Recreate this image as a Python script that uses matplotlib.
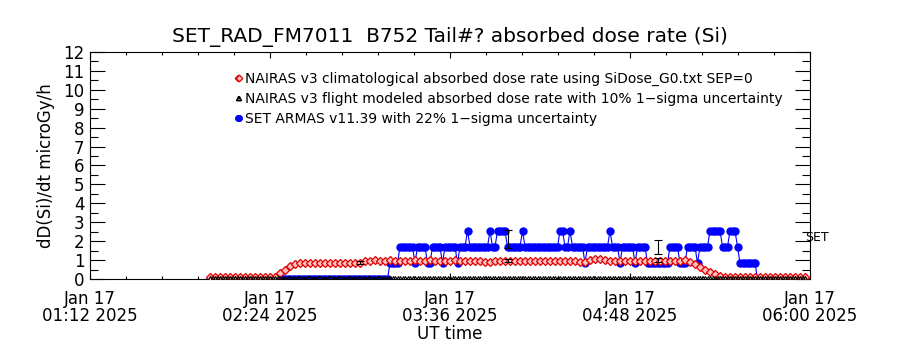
import datetime as dt
import numpy as np
import matplotlib
matplotlib.use("Agg")
import matplotlib.pyplot as plt

title = "SET_RAD_FM7011  B752 Tail#? absorbed dose rate (Si)"
day = dt.datetime(2025, 1, 17)

# NAIRAS climatological dose rate, 2-minute samples from 02:00 to 05:58
clim_start = day + dt.timedelta(hours=2)
clim_dose = ([0.08] * 13
             + [0.12, 0.30, 0.50, 0.66, 0.78, 0.85]
             + [0.86] * 12
             + [0.95]
             + [0.97, 0.98, 0.97, 0.97, 0.98, 0.97, 0.97, 0.96, 0.97, 0.98, 0.97,
                0.97, 0.98, 0.97, 0.96, 0.97, 0.97, 0.98, 0.97, 0.97, 0.96, 0.95]
             + [0.93, 0.92, 0.92, 0.93, 0.94]
             + [0.97] * 15
             + [0.92, 0.90, 0.98, 1.07, 1.08, 1.02]
             + [0.97] * 15
             + [1.00, 0.92, 0.78, 0.64, 0.50, 0.37, 0.26, 0.18, 0.12, 0.09]
             + [0.08] * 15)
clim_times = [clim_start + dt.timedelta(minutes=2 * i) for i in range(len(clim_dose))]

# SET ARMAS dose rate, 1-minute samples from 02:00, stored as (level, run length)
set_levels = [0, 0.85, 1.7, 0.85, 1.7, 0.85, 1.7, 0.85, 1.7, 0.85, 1.7, 2.55, 1.7,
              2.55, 1.7, 2.55, 1.7, 2.55, 1.7, 2.55, 1.7, 2.55, 1.7, 0.85, 1.7,
              2.55, 1.7, 0.85, 1.7, 0.85, 1.7, 0.85, 1.7, 0.85, 1.7, 0.85, 1.7,
              2.55, 1.7, 2.55, 1.7, 0.85, 0]
set_runs = [72, 4, 6, 1, 4, 2, 4, 1, 5, 1, 3, 1, 8,
            1, 2, 4, 6, 1, 14, 2, 2, 1, 5, 1, 9,
            1, 3, 1, 5, 1, 4, 9, 4, 3, 4, 1, 4,
            5, 3, 3, 1, 7, 20]
set_dose = np.repeat(set_levels, set_runs)
set_times = [clim_start + dt.timedelta(minutes=i) for i in range(len(set_dose))]

# NAIRAS flight modeled dose rate (zero along the track)
flight_dose = np.zeros(len(set_times))

# spot values with uncertainty bars
flight_err_times = ["03:00", "03:59", "04:59"]
flight_err_vals = np.array([0.88, 0.98, 0.99])
set_err_times = ["03:59", "04:59"]
set_err_vals = np.array([2.12, 1.68])

xtick_times = ["01:12", "02:24", "03:36", "04:48", "06:00"]
xtick_labels = ["Jan 17\n%s 2025" % t for t in xtick_times]


def to_dt(hhmm):
    h, m = hhmm.split(":")
    return day + dt.timedelta(hours=int(h), minutes=int(m))


fig = plt.figure(figsize=(9, 3.5), dpi=100)
ax = fig.add_axes([0.1, 0.2029, 0.8, 0.6486])

ax.plot(set_times, set_dose, color="#0000ff", lw=0.8, marker="o", ms=5,
        mec="#0000ff", mfc="#0000ff", zorder=2,
        label="SET ARMAS v11.39 with 22% 1\u2212sigma uncertainty")
ax.plot(clim_times, clim_dose, color="#e00000", lw=0.8, marker="D", ms=4.2,
        mfc="#ffc0c0", mec="#e00000", mew=0.9, zorder=3,
        label="NAIRAS v3 climatological absorbed dose rate using SiDose_G0.txt SEP=0")
ax.plot(set_times, flight_dose, color="black", lw=0.6, marker="^", ms=4,
        mfc="none", mec="black", mew=0.8, zorder=4,
        label="NAIRAS v3 flight modeled absorbed dose rate with 10% 1\u2212sigma uncertainty")

ax.errorbar([to_dt(t) for t in flight_err_times], flight_err_vals,
            yerr=0.10 * flight_err_vals, fmt="none", ecolor="black",
            elinewidth=0.8, capsize=3, capthick=0.8, zorder=5)
ax.errorbar([to_dt(t) for t in set_err_times], set_err_vals,
            yerr=0.22 * set_err_vals, fmt="none", ecolor="black",
            elinewidth=0.8, capsize=3, capthick=0.8, zorder=5)

ax.text(to_dt("05:58"), 2.2, "SET", fontsize=9, va="center", ha="left", clip_on=False)

ax.set_xlim(to_dt("01:12"), to_dt("06:00"))
ax.set_ylim(0, 12)
ax.set_xticks([to_dt(t) for t in xtick_times])
ax.set_xticklabels(xtick_labels, fontsize=12, linespacing=0.95)
minor_x = [to_dt("01:12") + dt.timedelta(minutes=14.4 * k) for k in range(21)]
ax.set_xticks(minor_x, minor=True)
ax.set_yticks(range(0, 13))
ax.set_yticks(np.arange(0.5, 12, 1), minor=True)
ax.tick_params(axis="both", which="both", direction="in", top=True, right=True,
               width=0.8, labelsize=12)
ax.tick_params(axis="x", which="major", length=4, pad=8)
ax.tick_params(axis="x", which="minor", length=2)
ax.tick_params(axis="y", which="major", length=11, pad=4)
ax.tick_params(axis="y", which="minor", length=6)
for s in ax.spines.values():
    s.set_linewidth(0.8)

ax.set_title(title, fontsize=14.5, pad=7)
ax.set_ylabel("dD(Si)/dt microGy/h", fontsize=12, labelpad=6)
ax.set_xlabel("UT time", fontsize=12, labelpad=0)

handles, labels = ax.get_legend_handles_labels()
order = [1, 2, 0]
ax.legend([handles[i] for i in order], [labels[i] for i in order],
          loc="upper left", bbox_to_anchor=(0.19, 0.945), frameon=False,
          fontsize=10, numpoints=2, handlelength=0.7, handletextpad=0.1,
          labelspacing=0.45, borderpad=0, markerscale=0.8)

fig.savefig("out.png", dpi=100)
